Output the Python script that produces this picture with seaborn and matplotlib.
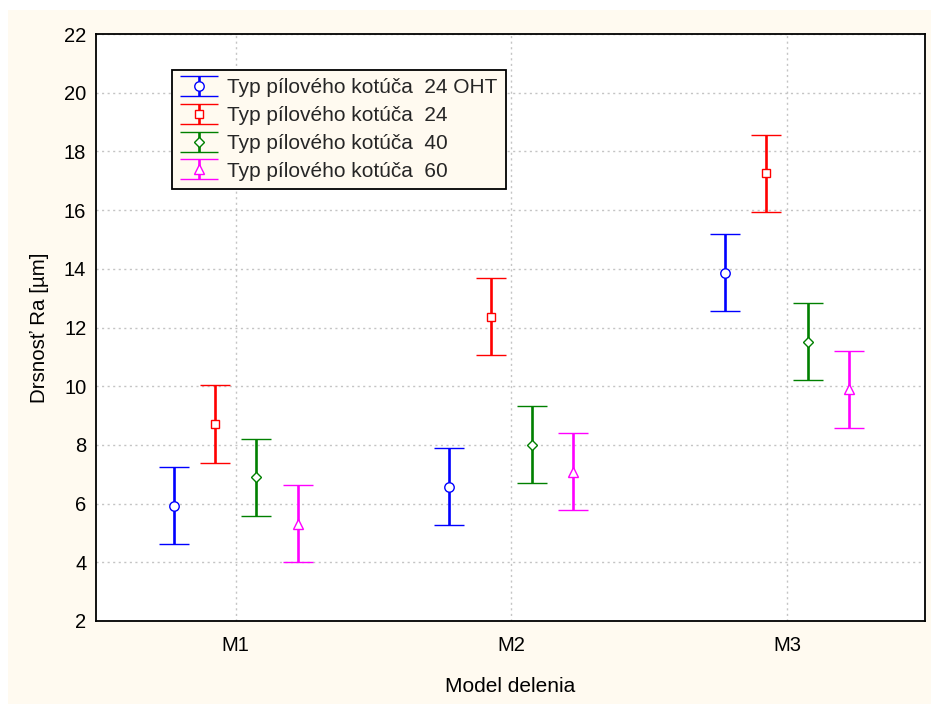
import matplotlib
matplotlib.use("Agg")
import matplotlib.pyplot as plt
import matplotlib.patches as mpatches
from matplotlib.legend_handler import HandlerErrorbar
import numpy as np
import pandas as pd
import seaborn as sns

# ---- data ----
models = ["M1", "M2", "M3"]
series_labels = [
    "Typ pílového kotúča  24 OHT",
    "Typ pílového kotúča  24",
    "Typ pílového kotúča  40",
    "Typ pílového kotúča  60",
]
mean_24oht = [5.93, 6.58, 13.86]
err_24oht = [1.32, 1.31, 1.31]
mean_24 = [8.71, 12.36, 17.26]
err_24 = [1.32, 1.31, 1.31]
mean_40 = [6.89, 8.01, 11.52]
err_40 = [1.31, 1.31, 1.31]
mean_60 = [5.31, 7.08, 9.89]
err_60 = [1.31, 1.31, 1.31]
y_ticks = [2, 4, 6, 8, 10, 12, 14, 16, 18, 20, 22]

colors = ["#0000FF", "#FF0000", "#008000", "#FF00FF"]
markers = ["o", "s", "D", "^"]
msizes = [6.8, 6.2, 5.5, 6.5]
offsets = [-0.225, -0.075, 0.075, 0.225]
means = [mean_24oht, mean_24, mean_40, mean_60]
errs = [err_24oht, err_24, err_40, err_60]

rows = []
for lab, m, e in zip(series_labels, means, errs):
    for i, mod in enumerate(models):
        rows.append({"series": lab, "model": mod, "idx": i, "mean": m[i], "err": e[i]})
df = pd.DataFrame(rows)

sns.set_theme(style="white")
plt.rcParams["font.family"] = ["Liberation Sans", "DejaVu Sans"]

cream = "#FFFAF0"
fig = plt.figure(figsize=(9.31, 7.04), dpi=100, facecolor="white")
fig.patches.append(mpatches.Rectangle((8 / 931, 0), 1, 1 - 10 / 704,
                                      transform=fig.transFigure,
                                      facecolor=cream, edgecolor="none", zorder=-10))
ax = fig.add_axes([96 / 931, (704 - 621) / 704, (925 - 96) / 931, (621 - 34) / 704])
ax.set_facecolor("white")

handles = []
for k, lab in enumerate(series_labels):
    sub = df[df["series"] == lab]
    h = ax.errorbar(sub["idx"] + offsets[k], sub["mean"], yerr=sub["err"],
                    fmt=markers[k], color=colors[k], mfc="white", mec=colors[k],
                    ms=msizes[k], mew=1.0, elinewidth=1.9, capsize=11, capthick=2.2,
                    label=lab, zorder=3)
    handles.append(h)

ax.set_xlim(-0.507, 2.5)
ax.set_ylim(2, 22)
ax.set_xticks(range(len(models)))
ax.set_xticklabels(models)
ax.set_yticks(y_ticks)
ax.grid(True, color="#C4C4C4", linestyle=(0, (1.5, 2.5)), linewidth=1.0)
ax.set_axisbelow(True)
for sp in ax.spines.values():
    sp.set_color("black")
    sp.set_linewidth(1.3)
ax.tick_params(axis="both", direction="in", length=3, width=1, colors="black",
               labelsize=14.5, pad=7)
ax.tick_params(axis="x", pad=11)
ax.set_xlabel("Model delenia", fontsize=15, color="black", labelpad=16)
ax.set_ylabel("Drsnosť Ra [µm]", fontsize=14.8, color="black", labelpad=11)


def upd(legend_handle, orig_handle):
    legend_handle.update_from(orig_handle)
    if hasattr(legend_handle, "get_marker") and legend_handle.get_marker() == "_":
        legend_handle.set_markersize(27)


leg = ax.legend(handles=handles, labels=series_labels, loc="upper left",
                bbox_to_anchor=((172 - 96) / 829, (621 - 70) / 587),
                fontsize=15, frameon=True, fancybox=False, facecolor=cream,
                edgecolor="black", framealpha=1, borderpad=0.4, labelspacing=0.42,
                handlelength=1.75, handletextpad=0.5, borderaxespad=0,
                handler_map={type(handles[0]): HandlerErrorbar(yerr_size=0.48, update_func=upd)})
leg.get_frame().set_linewidth(1.3)

fig.savefig("out.png", dpi=100, facecolor=fig.get_facecolor())
